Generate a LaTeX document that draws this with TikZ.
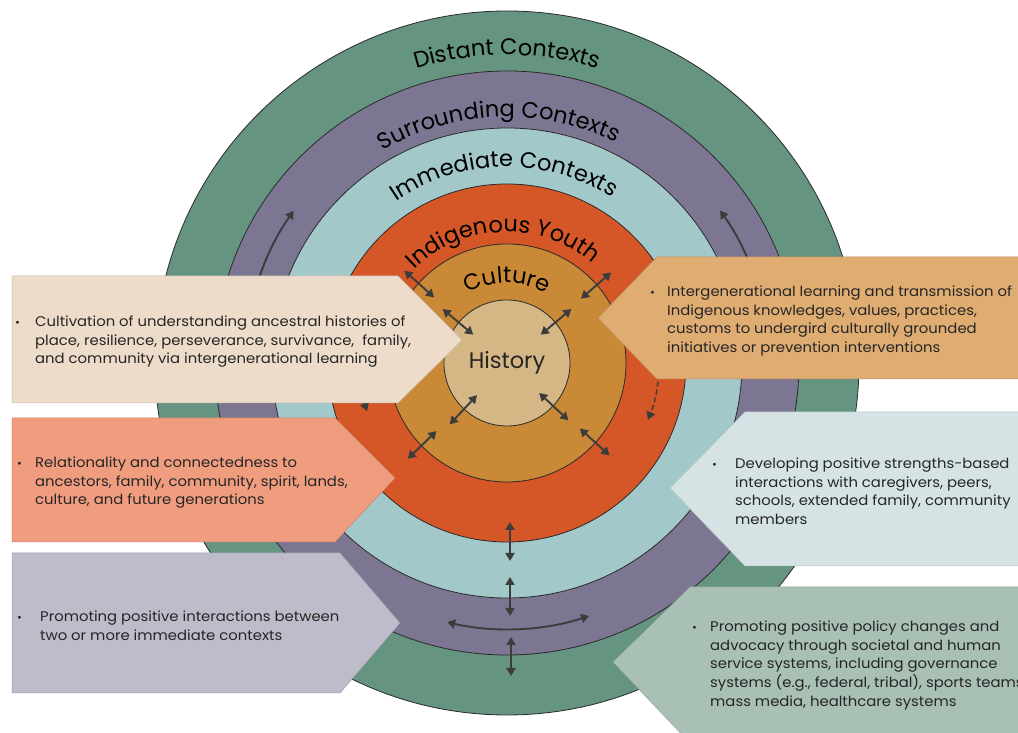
\documentclass[tikz,border=0pt]{standalone}
\usepackage{fontspec}
\setmainfont{Poppins}
\newfontfamily\boxfam[FakeStretch=1.06]{Poppins}
\usetikzlibrary{arrows.meta,decorations.text,calc}
\definecolor{cDist}{HTML}{659480}
\definecolor{cSurr}{HTML}{7C7692}
\definecolor{cImm}{HTML}{A3C8CA}
\definecolor{cYouth}{HTML}{D55626}
\definecolor{cCult}{HTML}{C98936}
\definecolor{cHist}{HTML}{D5B685}
\definecolor{ringline}{HTML}{2A2A2A}
\definecolor{arrc}{HTML}{3C3C3C}
\definecolor{bA}{HTML}{EDDCC9}
\definecolor{bB}{HTML}{DFAC72}
\definecolor{bC}{HTML}{F09D7F}
\definecolor{bD}{HTML}{D5E3E4}
\definecolor{bE}{HTML}{BEBBCA}
\definecolor{bF}{HTML}{A9C0B5}
\definecolor{txt}{HTML}{262626}
\newcommand{\ringfont}{\fontsize{22.5}{26}\selectfont}
\newcommand{\boxfont}{\boxfam\fontsize{14}{18.5}\selectfont}
\newcommand{\bul}[1]{\makebox[#1][l]{\scalebox{0.8}{\textbullet}}}
\begin{document}
\begin{tikzpicture}[x=1pt,y=1pt,
  ring/.style={circle, draw=ringline, line width=0.8pt, inner sep=0pt, minimum size=#1},
  arrline/.style={draw=arrc, line width=1.9pt},
  dbl/.style={arrline, {Triangle[length=8pt,width=9pt]}-{Triangle[length=8pt,width=9pt]}},
  sgl/.style={arrline, -{Triangle[length=8pt,width=9pt]}},
  shape box/.style={fill=#1, draw=#1!85!black, line width=0.5pt},
  boxtext/.style={anchor=base west, inner sep=0pt, text=txt, font=\boxfont, align=left},
  ringlabel/.style={decorate, decoration={text along path, text align=center, text={|\ringfont|#1}}}
]
\useasboundingbox (0,0) rectangle (1018,733);
\clip (0,0) rectangle (1018,733);
\fill[white] (0,0) rectangle (1018,733);
\coordinate (C) at (507,370);

% rings
\node[ring=704pt, fill=cDist] (distant) at (C) {};
\node[ring=584pt, fill=cSurr] (surr) at (C) {};
\node[ring=470pt, fill=cImm] (imm) at (C) {};
\node[ring=358pt, fill=cYouth] (youth) at (C) {};
\node[ring=238pt, fill=cCult] (culture) at (C) {};
\node[ring=126pt, fill=cHist, font=\ringfont, text=txt] (history) at (C) {History};

% ring labels
\coordinate (lD) at ($(C)+(150:308)$);
\coordinate (lS) at ($(C)+(152:246)$);
\coordinate (lI) at ($(C)+(161:196)$);
\coordinate (lY) at ($(C)+(182:131)$);
\coordinate (lC) at ($(C)+(180:80)$);
\path[ringlabel={Distant Contexts}] (lD) arc[start angle=150, end angle=30, radius=308];
\path[ringlabel={Surrounding Contexts}] (lS) arc[start angle=152, end angle=32, radius=246];
\path[ringlabel={Immediate Contexts}] (lI) arc[start angle=161, end angle=21, radius=196];
\path[ringlabel={Indigenous Youth}] (lY) arc[start angle=182, end angle=2, radius=131];
\path[ringlabel={Culture}] (lC) arc[start angle=180, end angle=0, radius=80];

% curved arrows partly hidden by boxes
\coordinate (tl) at ($(C)+(172:262)$);
\draw[sgl] (tl) arc[start angle=172, end angle=144.5, radius=262];
\coordinate (tr) at ($(C)+(8:262)$);
\draw[sgl] (tr) arc[start angle=8, end angle=35.6, radius=262];
\coordinate (yl) at ($(C)+(175:148)$);
\draw[sgl] (yl) arc[start angle=175, end angle=199, radius=148];
\coordinate (yr) at ($(C)+(5:152)$);
\draw[sgl, line width=1.4pt, dash pattern=on 5pt off 3pt] (yr) arc[start angle=5, end angle=-22, radius=152];

% boxes
\path[shape box=bA] (12,457) -- (398,457) -- (462,393) -- (398,330) -- (12,330) -- cycle;
\path[shape box=bB] (598,415) -- (657,476) -- (1030,476) -- (1030,354) -- (657,354) -- cycle;
\path[shape box=bC] (12,315) -- (335,315) -- (395,255) -- (335,191) -- (12,191) -- cycle;
\path[shape box=bD] (670,245) -- (745,321) -- (1030,321) -- (1030,167) -- (745,167) -- cycle;
\path[shape box=bE] (12,180) -- (340,180) -- (400,110) -- (340,40) -- (12,40) -- cycle;
\path[shape box=bF] (613,71) -- (690,146) -- (1030,146) -- (1030,-10) -- (690,-10) -- cycle;

% box texts
\node[boxtext] (tA) at (15,406) {\bul{20pt}\begin{tabular}[t]{@{}l@{}}Cultivation of understanding ancestral histories of\\ place, resilience, perseverance, survivance,\ \ family,\\ and community via intergenerational learning\end{tabular}};
\node[boxtext] (tB) at (650,436) {\bul{17pt}\begin{tabular}[t]{@{}l@{}}Intergenerational learning and transmission of\\ Indigenous knowledges, values, practices,\\ customs to undergird culturally grounded\\ initiatives or prevention interventions\end{tabular}};
\node[boxtext] (tC) at (17,265) {\bul{18pt}\begin{tabular}[t]{@{}l@{}}Relationality and connectedness to\\ ancestors, family, community, spirit, lands,\\ culture, and future generations\end{tabular}};
\node[boxtext] (tD) at (712,264) {\bul{23pt}\begin{tabular}[t]{@{}l@{}}Developing positive strengths-based\\ interactions with caregivers, peers,\\ schools, extended family, community\\ members\end{tabular}};
\node[boxtext] (tE) at (17,111) {\bul{23pt}\begin{tabular}[t]{@{}l@{}}Promoting positive interactions between\\ two or more immediate contexts\end{tabular}};
\node[boxtext] (tF) at (692,101) {\bul{18pt}\begin{tabular}[t]{@{}l@{}}Promoting positive policy changes and\\ advocacy through societal and human\\ service systems, including governance\\ systems (e.g., federal, tribal), sports teams\\ mass media, healthcare systems\end{tabular}};

% double arrows across the inner boundaries
\foreach \a/\r/\n in {140/64/h1, 40/64/h2, 227/64/h3, -43/64/h4, 138/118/c1, 41/118/c2, 224/118/c3, -42/118/c4}{
  \coordinate (\n s) at ($(C)+(\a:{\r-20})$);
  \coordinate (\n e) at ($(C)+(\a:{\r+20})$);
  \draw[dbl] (\n s) -- (\n e);
}

% bottom vertical arrows
\coordinate (v1a) at (510,211); \coordinate (v1b) at (510,172);
\coordinate (v2a) at (510,156); \coordinate (v2b) at (510,117);
\coordinate (v3a) at (511,96);  \coordinate (v3b) at (511,57);
\draw[dbl] (v1a) -- (v1b);
\draw[dbl] (v2a) -- (v2b);
\draw[dbl] (v3a) -- (v3b);

% bottom arc arrow
\coordinate (ba) at ($(C)+(-103:266)$);
\draw[dbl] (ba) arc[start angle=-103, end angle=-72, radius=266];
\end{tikzpicture}
\end{document}
